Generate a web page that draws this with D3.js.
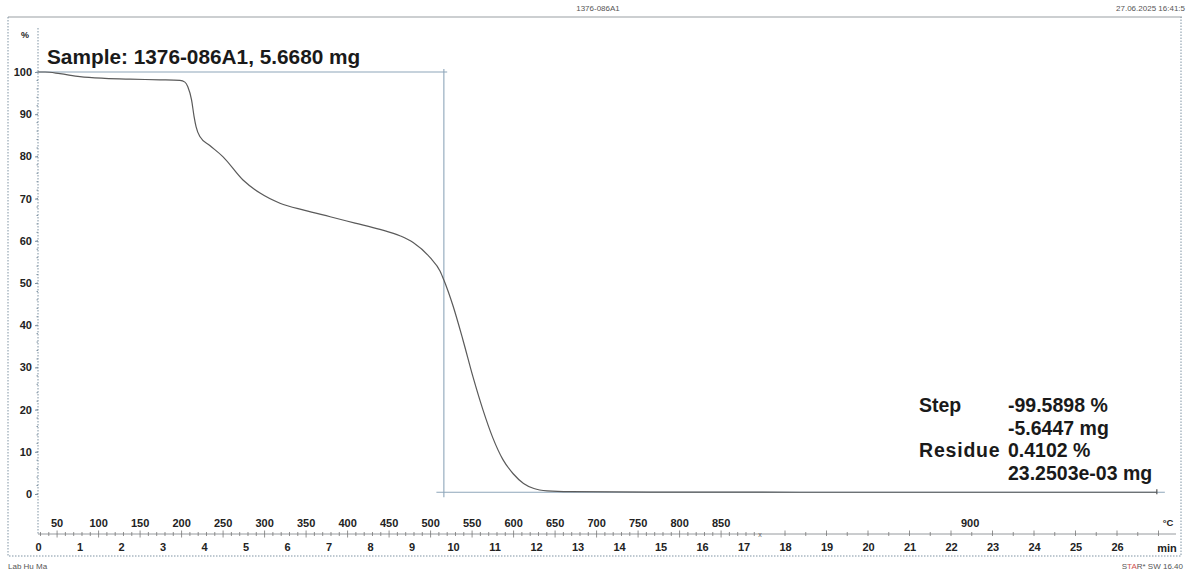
<!DOCTYPE html>
<html>
<head>
<meta charset="utf-8">
<script src="https://cdn.jsdelivr.net/npm/d3@7"></script>
<style>
  body { margin: 0; background: #fff; }
  svg { display: block; font-family: "Liberation Sans", Arial, sans-serif; }
</style>
</head>
<body>
<div id="chart"></div>
<script>
// TGA curve, time in min vs. weight in %
const timeMin = [0, 0.17, 0.53, 1.01, 1.61, 2.22, 2.94, 3.42, 3.54, 3.61, 3.70, 3.76, 3.81, 3.90,
  4.14, 4.46, 4.94, 5.35, 5.83, 6.43, 7.04, 7.64, 8.24, 8.72, 9.04, 9.45, 9.69, 9.78, 10.0,
  10.24, 10.48, 10.72, 10.96, 11.2, 11.45, 11.7, 11.95, 12.27, 12.82, 14.75, 18.36, 23.18, 26.96];
const weightPct = [100, 100, 99.6, 98.9, 98.5, 98.3, 98.15, 98.0, 97.6, 96.5, 93.4, 89.5, 87.0, 84.7,
  82.6, 79.9, 74.4, 71.3, 68.9, 67.2, 65.7, 64.2, 62.7, 61.2, 59.6, 56.0, 52.8, 50.7, 44.6,
  36.5, 27.8, 20.0, 13.3, 8.2, 4.8, 2.5, 1.3, 0.75, 0.55, 0.45, 0.42, 0.41, 0.41];

// temperature labels and where they sit on the time axis
const tempLabels = ["50", "100", "150", "200", "250", "300", "350", "400", "450", "500", "550",
  "600", "650", "700", "750", "800", "850", "900"];
const tempLabelMin = [0.46, 1.46, 2.46, 3.46, 4.46, 5.46, 6.46, 7.46, 8.46, 9.46, 10.46,
  11.46, 12.46, 13.46, 14.46, 15.46, 16.46, 22.46];
const heatingEndMin = 17.4;

const minuteTicks = d3.range(0, 27);
const yTicks = [0, 10, 20, 30, 40, 50, 60, 70, 80, 90, 100];

// step evaluation
const stepStartPct = 100, stepEndPct = 0.41, stepMin = 9.78;
const stepTopEnd = 9.86, stepBottomStart = 9.6, stepBottomEnd = 26.96;
const resultLabels = ["Step", "", "Residue", ""];
const resultValues = ["-99.5898 %", "-5.6447 mg", "0.4102 %", "23.2503e-03 mg"];

const W = 1187, H = 573;
const svg = d3.select('#chart').append('svg')
  .attr('width', W).attr('height', H);

const x = d3.scaleLinear().domain([0, 27]).range([38, 38 + 27 * 41.5]);
const y = d3.scaleLinear().domain([0, 100]).range([494, 72]);

const lineCol = '#8ea6ba';
const dotCol = '#7f93a3';

// frame
svg.append('line').attr('x1', 8).attr('x2', 1182).attr('y1', 17).attr('y2', 17)
  .attr('stroke', '#9aa0a4').attr('stroke-width', 1.2);
svg.append('path').attr('d', 'M8,17V556H1181V17')
  .attr('fill', 'none').attr('stroke', dotCol).attr('stroke-dasharray', '1.5,1.5');

// header / footer
svg.append('text').attr('x', 598).attr('y', 11).attr('text-anchor', 'middle')
  .attr('font-size', 8).attr('fill', '#555').text('1376-086A1');
svg.append('text').attr('x', 1185).attr('y', 11).attr('text-anchor', 'end')
  .attr('font-size', 8).attr('fill', '#555').text('27.06.2025 16:41:5');
svg.append('text').attr('x', 8).attr('y', 569)
  .attr('font-size', 8).attr('fill', '#555').text('Lab Hu Ma');
const star = svg.append('text').attr('x', 1183).attr('y', 569).attr('text-anchor', 'end')
  .attr('font-size', 8).attr('fill', '#555');
star.append('tspan').text('S');
star.append('tspan').attr('fill', '#d05050').text('TA');
star.append('tspan').text('R* SW 16.40');

// y axis
const yAxis = svg.append('g').attr('transform', 'translate(38,0)')
  .call(d3.axisLeft(y).tickValues(yTicks).tickSize(3).tickPadding(3));
yAxis.select('.domain').remove();
yAxis.selectAll('text').attr('font-size', 11).attr('font-weight', 'bold')
  .attr('fill', '#222').attr('font-family', '"Liberation Sans", Arial, sans-serif');
yAxis.selectAll('line').attr('stroke', dotCol);
svg.append('line').attr('x1', 38).attr('x2', 38).attr('y1', 28).attr('y2', 534)
  .attr('stroke', dotCol).attr('stroke-dasharray', '1.5,1.5');
svg.selectAll('.ymin').data(d3.range(0, 101, 2)).enter().append('line')
  .attr('x1', 36.5).attr('x2', 38).attr('y1', d => y(d)).attr('y2', d => y(d))
  .attr('stroke', dotCol);
svg.append('text').attr('x', 25).attr('y', 38).attr('text-anchor', 'middle')
  .attr('font-size', 9).attr('font-weight', 'bold').attr('fill', '#222').text('%');

// time axis
const axisY = 534;
const xAxis = svg.append('g').attr('transform', `translate(0,${axisY})`)
  .call(d3.axisBottom(x).tickValues(minuteTicks).tickSize(0).tickPadding(9));
xAxis.select('.domain').remove();
xAxis.selectAll('text').attr('font-size', 11).attr('font-weight', 'bold')
  .attr('fill', '#222').attr('font-family', '"Liberation Sans", Arial, sans-serif');
svg.append('line').attr('x1', x(0)).attr('x2', 1176).attr('y1', axisY).attr('y2', axisY)
  .attr('stroke', '#8a8f93').attr('stroke-width', 0.9);

// temperature ticks: fine during heating, sparse during isotherm
const heatTicks = d3.range(0, heatingEndMin, 0.2);
svg.selectAll('.ht').data(heatTicks).enter().append('line')
  .attr('x1', d => x(d + 0.06)).attr('x2', d => x(d + 0.06))
  .attr('y1', (d, i) => axisY - (i % 5 === 2 ? 3.5 : 2))
  .attr('y2', (d, i) => axisY + (i % 5 === 2 ? 3.5 : 2))
  .attr('stroke', '#777').attr('stroke-width', 0.8);
const isoTicks = d3.range(18, 27.1, 0.5);
svg.selectAll('.it').data(isoTicks).enter().append('line')
  .attr('x1', d => x(d)).attr('x2', d => x(d))
  .attr('y1', (d, i) => axisY - (i % 2 === 0 ? 3.5 : 2)).attr('y2', axisY + 2)
  .attr('stroke', '#777').attr('stroke-width', 0.8);
svg.append('text').attr('x', x(heatingEndMin)).attr('y', axisY + 2.5)
  .attr('text-anchor', 'middle').attr('font-size', 7).attr('fill', '#666').text('x');

svg.selectAll('.tl').data(tempLabels).enter().append('text')
  .attr('x', (d, i) => x(tempLabelMin[i])).attr('y', 527)
  .attr('text-anchor', 'middle').attr('font-size', 11).attr('font-weight', 'bold')
  .attr('fill', '#222').text(d => d);
svg.append('text').attr('x', 1168).attr('y', 526).attr('text-anchor', 'middle')
  .attr('font-size', 9.5).attr('font-weight', 'bold').attr('fill', '#222').text('°C');
svg.append('text').attr('x', 1167).attr('y', 552).attr('text-anchor', 'middle')
  .attr('font-size', 11).attr('font-weight', 'bold').attr('fill', '#222').text('min');

// step evaluation lines
const stepG = svg.append('g').attr('stroke', lineCol).attr('stroke-width', 1.1).attr('fill', 'none');
stepG.append('line').attr('x1', x(0)).attr('x2', x(stepTopEnd))
  .attr('y1', y(stepStartPct)).attr('y2', y(stepStartPct));
stepG.append('line').attr('x1', x(stepMin)).attr('x2', x(stepMin))
  .attr('y1', y(stepStartPct) - 3).attr('y2', y(stepEndPct) + 5);
stepG.append('line').attr('x1', x(stepBottomStart)).attr('x2', x(stepBottomEnd) + 8)
  .attr('y1', y(stepEndPct)).attr('y2', y(stepEndPct));
stepG.append('line').attr('x1', x(stepBottomEnd)).attr('x2', x(stepBottomEnd))
  .attr('y1', y(stepEndPct) - 3).attr('y2', y(stepEndPct) + 2).attr('stroke', '#444');

// weight curve
const curve = timeMin.map((t, i) => [t, weightPct[i]]);
svg.append('path').datum(curve)
  .attr('d', d3.line().x(d => x(d[0])).y(d => y(d[1])).curve(d3.curveMonotoneX))
  .attr('fill', 'none').attr('stroke', '#5a5a5a').attr('stroke-width', 1.2);

// sample title
svg.append('text').attr('x', 47).attr('y', 64)
  .attr('font-size', 20.8).attr('font-weight', 'bold').attr('fill', '#1a1a1a')
  .text('Sample: 1376-086A1, 5.6680 mg');

// results
const res = svg.append('g').attr('font-size', 19.5).attr('font-weight', 'bold').attr('fill', '#1a1a1a');
res.selectAll('.rl').data(resultLabels).enter().append('text')
  .attr('x', 919).attr('y', (d, i) => 412 + i * 22.5)
  .attr('letter-spacing', (d) => d === 'Residue' ? 0.8 : 0).text(d => d);
res.selectAll('.rv').data(resultValues).enter().append('text')
  .attr('x', 1008).attr('y', (d, i) => 412 + i * 22.5).text(d => d);
</script>
</body>
</html>
